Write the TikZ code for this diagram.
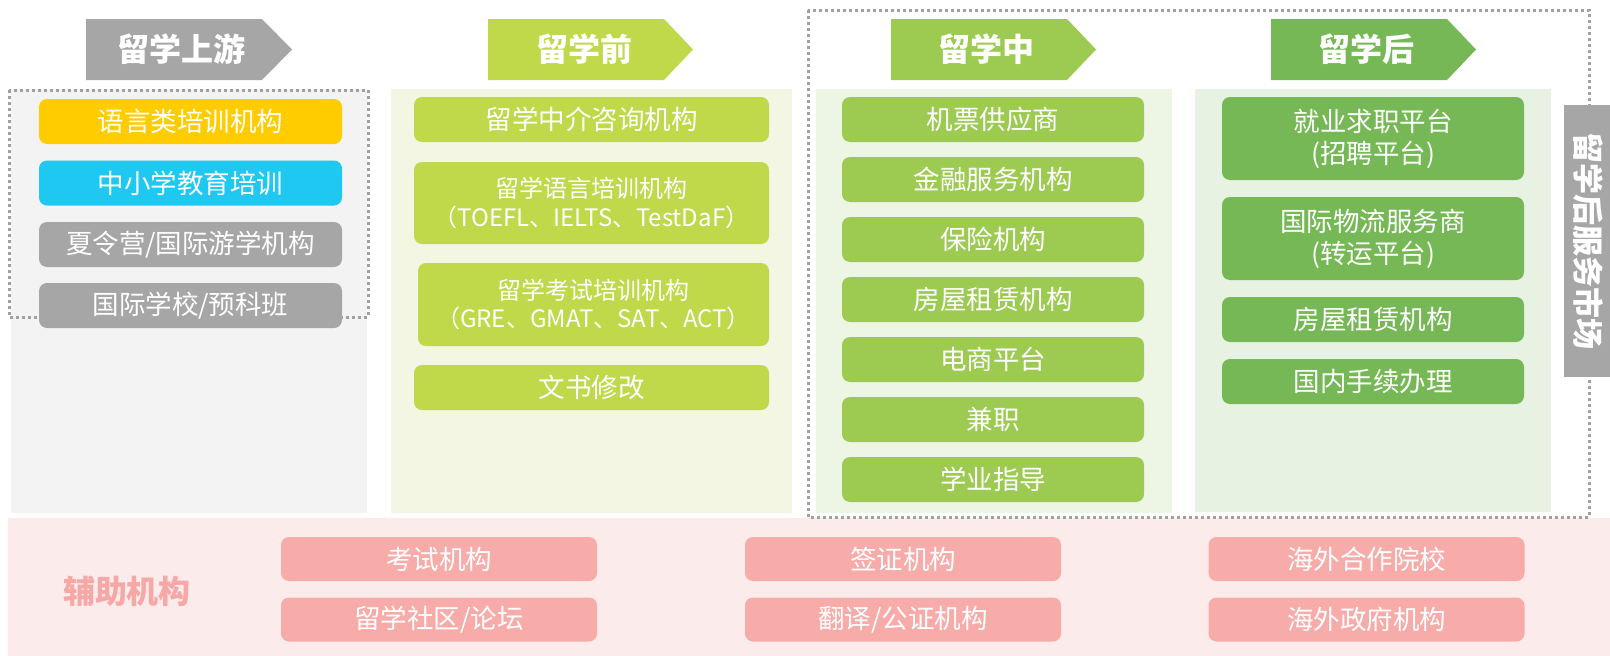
\documentclass[tikz,border=0pt]{standalone}
\usepackage{fontspec}
\newfontfamily\cjk{Noto Sans CJK SC}
\definecolor{hdrgray}{HTML}{A6A6A6}
\definecolor{pregreen}{HTML}{BFD94A}
\definecolor{midgreen}{HTML}{9DCB51}
\definecolor{postgreen}{HTML}{76B856}
\definecolor{bgleft}{HTML}{F3F3F3}
\definecolor{bgpre}{HTML}{F2F6E3}
\definecolor{bgmid}{HTML}{EDF5E5}
\definecolor{bgpost}{HTML}{E7F2E2}
\definecolor{gold}{HTML}{FFCC00}
\definecolor{skycyan}{HTML}{1FC8F1}
\definecolor{pinkbg}{HTML}{FCEBEB}
\definecolor{pinkbox}{HTML}{F7ACAA}
\definecolor{pinktext}{HTML}{F6A8A7}
\definecolor{dotgray}{HTML}{A0A0A0}
\tikzset{
  box/.style={rounded corners=8pt, inner sep=0pt, text=white, align=center,
    font=\cjk\fontsize{26.5}{30}\selectfont},
  hdrtext/.style={text=white, inner sep=0pt, font=\cjk\bfseries\fontsize{32}{36}\selectfont},
  dotbox/.style={draw=dotgray, line width=3pt, dash pattern=on 3pt off 3pt},
}
\newcommand{\hdr}[4]{% x left, x rect end, x tip, colour
  \fill[#4] (#1,19) -- (#2,19) -- (#3,49.5) -- (#2,80) -- (#1,80) -- cycle;}
\begin{document}
\begin{tikzpicture}[x=1pt,y=-1pt]
\useasboundingbox (0,0) rectangle (1610,656);
\fill[white] (0,0) rectangle (1610,656);
% panels
\fill[bgleft] (11,89) rectangle (367,513);
\fill[bgpre] (391,89) rectangle (792,513);
\fill[bgmid] (816,89) rectangle (1172,513);
\fill[bgpost] (1195,89) rectangle (1551,512);
\fill[pinkbg] (8,518) rectangle (1610,656);
% dotted frames
\draw[dotbox] (9,90) rectangle (368,317);
\draw[dotbox] (808,10) rectangle (1589,517);
% headers
\hdr{86}{262}{292}{hdrgray}
\hdr{488}{664}{693}{pregreen}
\hdr{891}{1067}{1096}{midgreen}
\hdr{1271}{1447}{1476}{postgreen}
\node[hdrtext] (h1) at (181,49.5) {留学上游};
\node[hdrtext] (h2) at (584,49.5) {留学前};
\node[hdrtext] (h3) at (986,49.5) {留学中};
\node[hdrtext] (h4) at (1366,49.5) {留学后};
% left column
\begin{scope}[every node/.style={box, minimum width=303pt, minimum height=45pt}]
\node[fill=gold] (a1) at (190.5,121.5) {语言类培训机构};
\node[fill=skycyan] (a2) at (190.5,183) {中小学教育培训};
\node[fill=hdrgray] (a3) at (190.5,244.5) {夏令营/国际游学机构};
\node[fill=hdrgray] (a4) at (190.5,305.5) {国际学校/预科班};
\end{scope}
% pre column
\node[box, fill=pregreen, minimum width=355pt, minimum height=45pt] (b1) at (591.5,119.5) {留学中介咨询机构};
\node[box, fill=pregreen, minimum width=355pt, minimum height=82pt, font=\cjk\fontsize{24}{28.5}\selectfont] (b2) at (591.5,203) {留学语言培训机构\\（TOEFL、IELTS、TestDaF）};
\node[box, fill=pregreen, minimum width=351pt, minimum height=83pt, font=\cjk\fontsize{24}{28.5}\selectfont] (b3) at (593.5,304.5) {留学考试培训机构\\（GRE、GMAT、SAT、ACT）};
\node[box, fill=pregreen, minimum width=355pt, minimum height=45pt] (b4) at (591.5,387.5) {文书修改};
% mid column
\begin{scope}[every node/.style={box, fill=midgreen, minimum width=302pt, minimum height=45pt}]
\node (c1) at (993,119.5) {机票供应商};
\node (c2) at (993,179.5) {金融服务机构};
\node (c3) at (993,239.5) {保险机构};
\node (c4) at (993,299.5) {房屋租赁机构};
\node (c5) at (993,359.5) {电商平台};
\node (c6) at (993,419.5) {兼职};
\node (c7) at (993,479.5) {学业指导};
\end{scope}
% post column
\begin{scope}[every node/.style={box, fill=postgreen, minimum width=302pt}]
\node[minimum height=83pt, font=\cjk\fontsize{26.5}{32}\selectfont] (d1) at (1373,138.5) {就业求职平台\\(招聘平台)};
\node[minimum height=83pt, font=\cjk\fontsize{26.5}{32}\selectfont] (d2) at (1373,238.5) {国际物流服务商\\(转运平台)};
\node[minimum height=45pt] (d3) at (1373,319.5) {房屋租赁机构};
\node[minimum height=45pt] (d4) at (1373,381.5) {国内手续办理};
\end{scope}
% side label
\fill[hdrgray] (1564,105) rectangle (1610,377);
\node[hdrtext, rotate=-90, font=\cjk\bfseries\fontsize{31}{34}\selectfont] (side) at (1588,241) {留学后服务市场};
% auxiliary
\node[inner sep=0pt, text=pinktext, font=\cjk\bfseries\fontsize{32}{36}\selectfont] (aux) at (127,591) {辅助机构};
\begin{scope}[every node/.style={box, fill=pinkbox, minimum width=316pt, minimum height=44pt}]
\node (e1) at (439,559) {考试机构};
\node (e2) at (439,619.5) {留学社区/论坛};
\node (e3) at (903,559) {签证机构};
\node (e4) at (903,619.5) {翻译/公证机构};
\node (e5) at (1366.5,559) {海外合作院校};
\node (e6) at (1366.5,619.5) {海外政府机构};
\end{scope}
\end{tikzpicture}
\end{document}
